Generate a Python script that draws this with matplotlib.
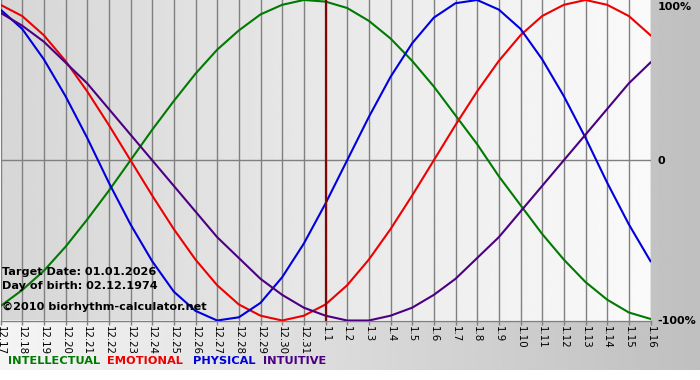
import numpy as np
import matplotlib
matplotlib.use('Agg')
import matplotlib.pyplot as plt

# day labels, 12.17 .. 1.16
days = ['12.17', '12.18', '12.19', '12.20', '12.21', '12.22', '12.23', '12.24',
        '12.25', '12.26', '12.27', '12.28', '12.29', '12.30', '12.31',
        '1.1', '1.2', '1.3', '1.4', '1.5', '1.6', '1.7', '1.8', '1.9', '1.10',
        '1.11', '1.12', '1.13', '1.14', '1.15', '1.16']
target_day = '1.1'

# cycle values (-1 .. 1)
intellectual = [-0.91, -0.81, -0.69, -0.54, -0.37, -0.19, 0.00, 0.19, 0.37, 0.54,
                0.69, 0.81, 0.91, 0.97, 1.00, 0.99, 0.95, 0.87, 0.76, 0.62,
                0.46, 0.28, 0.10, -0.10, -0.28, -0.46, -0.62, -0.76, -0.87, -0.95, -0.99]
emotional = [0.97, 0.90, 0.78, 0.62, 0.43, 0.22, 0.00, -0.22, -0.43, -0.62,
             -0.78, -0.90, -0.97, -1.00, -0.97, -0.90, -0.78, -0.62, -0.43, -0.22,
             0.00, 0.22, 0.43, 0.62, 0.78, 0.90, 0.97, 1.00, 0.97, 0.90, 0.78]
physical = [0.94, 0.82, 0.63, 0.40, 0.14, -0.14, -0.40, -0.63, -0.82, -0.94,
            -1.00, -0.98, -0.89, -0.73, -0.52, -0.27, 0.00, 0.27, 0.52, 0.73,
            0.89, 0.98, 1.00, 0.94, 0.82, 0.63, 0.40, 0.14, -0.14, -0.40, -0.63]
intuitive = [0.92, 0.84, 0.74, 0.61, 0.48, 0.32, 0.16, 0.00, -0.16, -0.32,
             -0.48, -0.61, -0.74, -0.84, -0.92, -0.97, -1.00, -1.00, -0.97, -0.92,
             -0.84, -0.74, -0.61, -0.48, -0.32, -0.16, 0.00, 0.16, 0.32, 0.48, 0.61]

series = [('INTELLECTUAL', intellectual, '#007a00'),
          ('EMOTIONAL', emotional, '#ee0000'),
          ('PHYSICAL', physical, '#0000dd'),
          ('INTUITIVE', intuitive, '#4b0082')]

W, H = 700, 380
fig = plt.figure(figsize=(7, 3.8), dpi=100)
fig.patch.set_facecolor('white')

# outer gradient (light left -> gray right), white strip at the bottom
bg = fig.add_axes([0, 10 / H, 1, 370 / H], zorder=0)
grad = np.linspace(0.96, 0.75, 256).reshape(1, -1)
bg.imshow(grad, cmap='gray', vmin=0, vmax=1, aspect='auto', extent=[0, 1, 0, 1])
bg.axis('off')

x = np.arange(len(days))
ax = fig.add_axes([0.5 / W, 59.5 / H, 650 / W, 320.5 / H], zorder=1)
ax.set_xlim(0, len(days) - 1)
ax.set_ylim(-1.0, 1.0)

# plot-area gradient
pgrad = np.linspace(0.84, 0.98, 256).reshape(1, -1)
ax.imshow(pgrad, cmap='gray', vmin=0, vmax=1, aspect='auto',
          extent=[0, len(days) - 1, -1, 1], zorder=0)

for xi in x:
    ax.axvline(xi, color='#808080', lw=1.0, zorder=1)
ax.axhline(0, color='#808080', lw=1.0, zorder=1)
ax.axhline(-1, color='#808080', lw=1.0, zorder=1, clip_on=False)

for name, vals, col in series:
    ax.plot(x, vals, color=col, lw=1.5, zorder=3, solid_joinstyle='round')

ax.axvline(days.index(target_day), color='#7a0a0a', lw=1.6, zorder=4)

for s in ax.spines.values():
    s.set_visible(False)
ax.set_xticks(x)
ax.set_xticklabels(days, rotation=270, fontsize=7.4)
ax.tick_params(axis='x', length=3, width=1, color='#808080', pad=1)
ax.set_yticks([])

# info text inside the plot
info_kw = dict(fontsize=8.1, fontweight='bold', color='black', va='center', ha='left',
               transform=fig.transFigure, zorder=5)
fig.text(2 / W, 1 - 272 / H, 'Target Date: 01.01.2026', **info_kw)
fig.text(2 / W, 1 - 286 / H, 'Day of birth: 02.12.1974', **info_kw)
fig.text(2 / W, 1 - 307 / H, '\u00a92010 biorhythm-calculator.net', **info_kw)

# percent labels on the right
pct_kw = dict(fontsize=8.0, fontweight='bold', color='black', va='center', ha='left')
fig.text(658 / W, 1 - 7 / H, '100%', **pct_kw)
fig.text(658 / W, 1 - 161 / H, '0', **pct_kw)
fig.text(657 / W, 1 - 321 / H, '-100%', **pct_kw)

# coloured legend words
legend_x = [8, 107, 193, 263]
for (name, vals, col), lx in zip(series, legend_x):
    fig.text(lx / W, 1 - 361 / H, name, fontsize=8.2, fontweight='bold',
             color=col, va='center', ha='left')

fig.savefig('out.png', dpi=100)
